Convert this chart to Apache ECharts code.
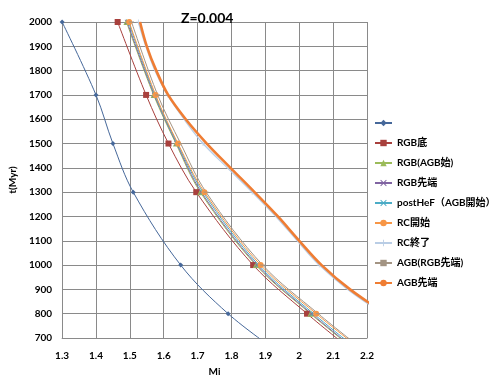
<!DOCTYPE html>
<html><head><meta charset="utf-8">
<script src="https://cdn.jsdelivr.net/npm/echarts@6/dist/echarts.min.js"></script>
<style>html,body{margin:0;padding:0;background:#fff}#c{width:500px;height:385px}</style>
</head><body><div id="c"></div>
<script>
// Data: [Mi, t(Myr)]
const tValues = [2000, 1700, 1500, 1300, 1000, 800, 650];
const tDense  = [2000, 1900, 1800, 1700, 1600, 1500, 1400, 1300, 1200, 1100, 1000, 900, 800];
const seriesNames = [' ', 'RGB底', 'RGB(AGB始)', 'RGB先端', 'postHeF（AGB開始）', 'RC開始', 'RC終了', 'AGB(RGB先端)', 'AGB先端'];
const miBlue     = [1.30, 1.40, 1.45, 1.51, 1.65, 1.79, 1.93];
const miRGBbot   = [1.464, 1.548, 1.614, 1.696, 1.864, 2.023, 2.155];
const miRGBagb   = [1.490, 1.570, 1.636, 1.708, 1.872, 2.033, 2.165];
const miRGBtip   = [1.492, 1.572, 1.638, 1.711, 1.875, 2.036, 2.168];
const miPostHeF  = [1.496, 1.574, 1.640, 1.716, 1.880, 2.042, 2.175];
const miRCstart  = [1.498, 1.576, 1.642, 1.720, 1.886, 2.050, 2.185];
const miAGBrgb   = [1.505, 1.582, 1.650, 1.725, 1.892, 2.056, 2.190];
// dense readings (t = tDense)
const miRCend    = [1.525, 1.547, 1.574, 1.611, 1.660, 1.716, 1.788, 1.861, 1.931, 1.994, 2.059, 2.143, 2.247];
const rcEndMarkerT = [2000, 1700, 1500, 1300, 1000];
const miAGBtip   = [1.530, 1.550, 1.578, 1.613, 1.665, 1.727, 1.797, 1.868, 1.937, 2.000, 2.066, 2.150, 2.255];
const xTicks = {min: 1.3, max: 2.2, interval: 0.1};
const yTicks = {min: 700, max: 2000, interval: 100};

function pairs(xs, ts) { return xs.map((x, i) => [x, ts[i]]); }

const FONT = 'Lato, "Noto Sans CJK JP", sans-serif';
const X_SYM = 'path://M0,1L1,0L5,4L9,0L10,1L6,5L10,9L9,10L5,6L1,10L0,9L4,5Z';
const PLUS_SYM = 'path://M4.3,0H5.7V4.3H10V5.7H5.7V10H4.3V5.7H0V4.3H4.3Z';

function mk(name, data, color, symbol, size, width, z) {
  return {
    name: name, type: 'line', data: data, smooth: 0.35,
    symbol: symbol, symbolSize: size, showSymbol: symbol !== 'none',
    clip: true, z: z || 2,
    lineStyle: {color: color, width: width},
    itemStyle: {color: color},
    emphasis: {disabled: true}
  };
}

const rcEndData = pairs(miRCend, tDense).map(p =>
  rcEndMarkerT.indexOf(p[1]) >= 0 ? {value: p} : {value: p, symbol: 'none'});

const chart = echarts.init(document.getElementById('c'), null, {renderer: 'canvas'});
chart.setOption({
  animation: false,
  backgroundColor: '#fff',
  title: {text: 'Z=0.004', left: 176, top: 6,
    textStyle: {fontFamily: FONT, fontSize: 14, fontWeight: 'bold', color: '#000'}},
  grid: {left: 56, right: 133, top: 22, bottom: 47, containLabel: false},
  legend: {
    orient: 'vertical', left: 369, top: 113,
    itemWidth: 17, itemHeight: 8, itemGap: 10,
    textStyle: {fontFamily: FONT, fontSize: 10, fontWeight: 'bold', color: '#000', lineHeight: 10},
    data: seriesNames
  },
  xAxis: {
    type: 'value', min: xTicks.min, max: xTicks.max, interval: xTicks.interval,
    name: 'Mi', nameLocation: 'middle', nameGap: 29,
    nameTextStyle: {fontFamily: FONT, fontSize: 10, fontWeight: 'bold', color: '#000'},
    axisLine: {show: true, lineStyle: {color: '#8a8a8a'}},
    axisTick: {show: false},
    axisLabel: {fontFamily: FONT, fontSize: 10, fontWeight: 'bold', color: '#000', margin: 13},
    splitLine: {show: true, lineStyle: {color: '#8a8a8a', width: 1}}
  },
  yAxis: {
    type: 'value', min: yTicks.min, max: yTicks.max, interval: yTicks.interval,
    name: 't(Myr)', nameLocation: 'middle', nameGap: 42, nameRotate: 90,
    nameTextStyle: {fontFamily: FONT, fontSize: 10, fontWeight: 'bold', color: '#000'},
    axisLine: {show: true, lineStyle: {color: '#8a8a8a'}},
    axisTick: {show: false},
    axisLabel: {fontFamily: FONT, fontSize: 10, fontWeight: 'bold', color: '#000', margin: 10,
      formatter: v => String(v)},
    splitLine: {show: true, lineStyle: {color: '#8a8a8a', width: 1}}
  },
  series: [
    mk(seriesNames[0], pairs(miBlue, tValues), '#46689a', 'diamond', 5, 1),
    mk(seriesNames[1], pairs(miRGBbot, tValues), '#a8403d', 'rect', 6, 1),
    mk(seriesNames[2], pairs(miRGBagb, tValues), '#9bbb59', 'triangle', 6, 1),
    mk(seriesNames[3], pairs(miRGBtip, tValues), '#8064a2', X_SYM, 5, 1),
    mk(seriesNames[4], pairs(miPostHeF, tValues), '#4bacc6', X_SYM, 5, 1),
    mk(seriesNames[5], pairs(miRCstart, tValues), '#f79646', 'circle', 6, 1),
    mk(seriesNames[6], rcEndData, '#b9cde5', PLUS_SYM, 5, 1.3),
    mk(seriesNames[7], pairs(miAGBrgb, tValues), '#a39483', 'rect', [5, 1], 1),
    mk(seriesNames[8], pairs(miAGBtip, tDense), '#ef7d33', 'none', 0, 2.6, 3)
  ]
});
</script></body></html>
